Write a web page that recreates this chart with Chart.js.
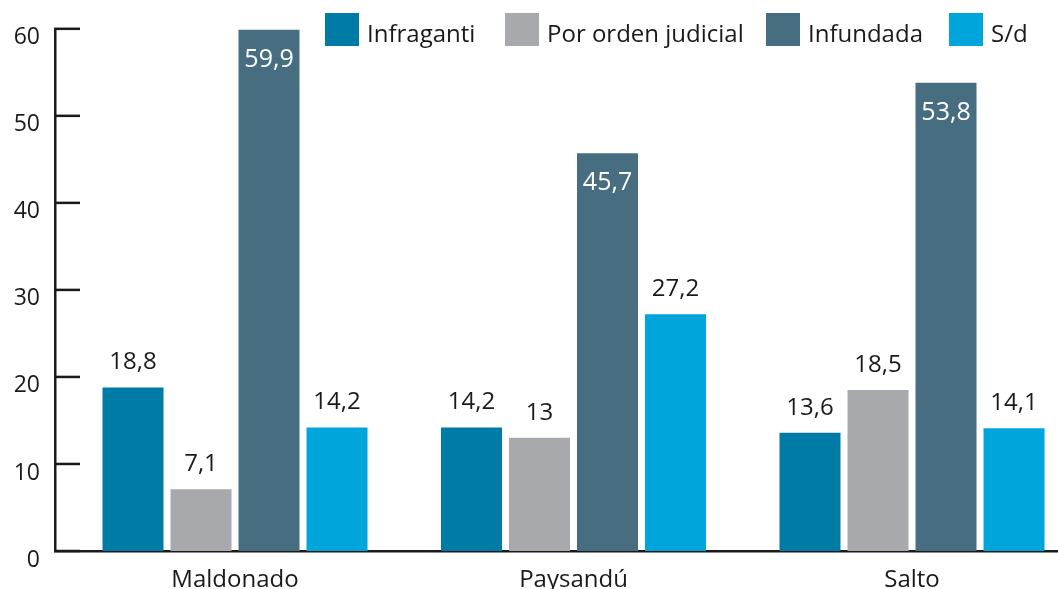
<!DOCTYPE html>
<html>
<head>
<meta charset="utf-8">
<script src="https://cdn.jsdelivr.net/npm/chart.js@4"></script>
<style>
  html, body { margin: 0; padding: 0; background: #fff; overflow: hidden; }
  #wrap { width: 1058px; height: 589px; position: relative; }
</style>
</head>
<body>
<div id="wrap"><canvas id="chart"></canvas></div>
<script>
const departments = ['Maldonado', 'Paysandú', 'Salto'];
const seriesNames = ['Infraganti', 'Por orden judicial', 'Infundada', 'S/d'];
const seriesColors = ['#007ba5', '#a8a9ad', '#476e80', '#00a6db'];
const infraganti = [18.8, 14.2, 13.6];
const porOrdenJudicial = [7.1, 13, 18.5];
const infundada = [59.9, 45.7, 53.8];
const sinDato = [14.2, 27.2, 14.1];
const yMin = 0;
const yMax = 60;
const yStep = 10;

const FONT = "'Open Sans', 'DejaVu Sans', sans-serif";
const INK = '#1a1a1a';

// x range leaves the extra gap left of Maldonado seen in the picture
const xMin = -0.5318;
const xMax = 2.4313;

// left edge of each legend swatch
const legendX = [325, 505, 766, 949];

const allSeries = [infraganti, porOrdenJudicial, infundada, sinDato];

const fmt = v => String(v).replace('.', ',');

// inward tick marks on the y axis
const yTickMarks = {
    id: 'yTickMarks',
    afterDraw(chart) {
        const ctx = chart.ctx;
        const y = chart.scales.y;
        const left = chart.chartArea.left;
        ctx.save();
        ctx.strokeStyle = INK;
        ctx.lineWidth = 2.5;
        for (const t of y.ticks) {
            const py = y.getPixelForValue(t.value);
            ctx.beginPath();
            ctx.moveTo(left - 1, py);
            ctx.lineTo(left + 25, py);
            ctx.stroke();
        }
        ctx.restore();
    }
};

// value labels: above the bar, inside (white) for Infundada
const valueLabels = {
    id: 'valueLabels',
    afterDatasetsDraw(chart) {
        const ctx = chart.ctx;
        ctx.save();
        ctx.textAlign = 'center';
        ctx.textBaseline = 'alphabetic';
        chart.data.datasets.forEach((ds, di) => {
            const meta = chart.getDatasetMeta(di);
            meta.data.forEach((bar, i) => {
                const inside = di === 2;
                ctx.font = (inside ? '25px ' : '24px ') + FONT;
                ctx.fillStyle = inside ? '#ffffff' : INK;
                ctx.fillText(fmt(ds.data[i].y), bar.x, inside ? bar.y + 37 : bar.y - 18);
            });
        });
        ctx.restore();
    }
};

// legend drawn along the top, overlapping the plot like in the picture
const topLegend = {
    id: 'topLegend',
    afterDraw(chart) {
        const ctx = chart.ctx;
        ctx.save();
        ctx.font = '24px ' + FONT;
        ctx.textBaseline = 'alphabetic';
        ctx.textAlign = 'left';
        chart.data.datasets.forEach((ds, i) => {
            const x = legendX[i];
            ctx.fillStyle = ds.backgroundColor;
            ctx.fillRect(x, 13, 34, 33);
            ctx.fillStyle = INK;
            ctx.fillText(ds.label, x + 42, 42);
        });
        ctx.restore();
    }
};

const datasets = seriesNames.map((name, s) => ({
    label: name,
    data: allSeries[s].map((v, i) => ({ x: i, y: v })),
    backgroundColor: seriesColors[s],
    borderWidth: 0,
    categoryPercentage: 0.8036,
    barPercentage: 0.897
}));

new Chart(document.getElementById('chart'), {
    type: 'bar',
    data: { datasets },
    options: {
        responsive: true,
        maintainAspectRatio: false,
        animation: false,
        layout: { padding: { top: 27, left: 0, right: 0, bottom: 0 } },
        plugins: {
            legend: { display: false },
            tooltip: { enabled: false }
        },
        scales: {
            x: {
                type: 'linear',
                min: xMin,
                max: xMax,
                offset: false,
                grid: { display: false, drawTicks: false },
                border: { display: true, color: INK, width: 2.5 },
                ticks: {
                    stepSize: 1,
                    includeBounds: false,
                    autoSkip: false,
                    maxRotation: 0,
                    padding: 15,
                    color: INK,
                    font: { family: FONT, size: 24 },
                    callback: v => departments[v] ?? ''
                },
                afterFit: s => { s.height = 38; }
            },
            y: {
                min: yMin,
                max: yMax,
                grid: { display: false, drawTicks: false },
                border: { display: true, color: INK, width: 2.5 },
                ticks: {
                    stepSize: yStep,
                    padding: 15,
                    labelOffset: 9,
                    color: INK,
                    font: { family: FONT, size: 23 }
                },
                afterFit: s => { s.width = 55; }
            }
        }
    },
    plugins: [yTickMarks, valueLabels, topLegend]
});
</script>
</body>
</html>
